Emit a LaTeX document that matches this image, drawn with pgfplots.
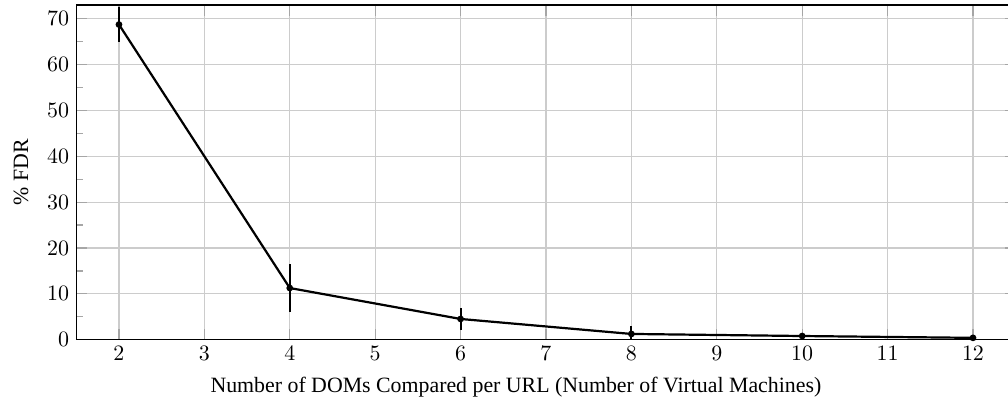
\documentclass[border=0pt]{standalone}
\usepackage{pgfplots}
\pgfplotsset{compat=1.18}
\usepackage{fontspec}
\setmainfont{Liberation Serif}

\pgfplotstableread{
x   y      err
2   68.75  3.90
4   11.27  5.30
6   4.52   2.37
8   1.25   1.80
10  0.80   0.60
12  0.40   0.25
}\fdrdata

\begin{document}
\begin{tikzpicture}
\begin{axis}[
  scale only axis,
  width=468.8pt, height=167pt,
  xmin=1.5, xmax=12.5,
  ymin=0, ymax=73,
  xtick={2,...,12},
  ytick={0,10,...,70},
  minor ytick={5,15,...,65},
  grid=major,
  major grid style={gray!40, line width=0.6pt},
  tick style={gray!70, line width=0.6pt},
  major tick length=5.5pt,
  minor tick length=3.5pt,
  tick label style={font=\fontsize{11}{13}\selectfont},
  xlabel={Number of DOMs Compared per URL (Number of Virtual Machines)},
  ylabel={\% FDR},
  label style={font=\fontsize{10.9}{13}\selectfont},
  xlabel style={yshift=-1pt, xshift=-15pt},
  ylabel style={yshift=2.5pt},
  axis line style={black, line width=0.6pt},
]
\addplot+[black, line width=1.1pt, mark=*, mark size=1.1pt,
  mark options={black, fill=black},
  error bars/.cd, y dir=both, y explicit,
  error bar style={black, line width=1pt},
  error mark=none]
  table[x=x, y=y, y error=err] {\fdrdata};
\coordinate (bl) at (axis cs:0.607,-14.88);
\coordinate (tr) at (axis cs:12.41,74.1);
\end{axis}
\pgfresetboundingbox
\useasboundingbox (bl) rectangle (tr);
\end{tikzpicture}
\end{document}
